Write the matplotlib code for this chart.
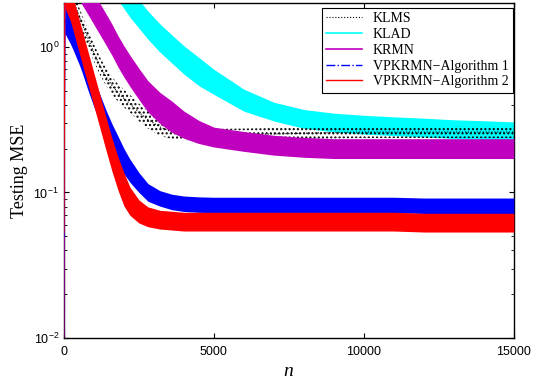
import numpy as np
import matplotlib
matplotlib.use("Agg")
import matplotlib.pyplot as plt
from matplotlib.lines import Line2D

plt.rcParams['mathtext.fontset'] = 'custom'
plt.rcParams['mathtext.rm'] = 'Liberation Sans'
plt.rcParams['mathtext.it'] = 'Liberation Serif:italic'

n_pts = [0, 30, 200, 300, 400, 500, 600, 800, 1000, 1200, 1400, 1600, 1800, 2000,
         2200, 2500, 2800, 3200, 3600, 4000, 4500, 5000, 6000, 7000, 8000, 9000,
         10000, 11000, 12000, 13000, 14000, 15000]

# approximate centre of each noisy learning curve (testing MSE)
klms = [0.03, 2.8, 2.45, 2.14, 1.86, 1.64, 1.45, 1.15, 0.91, 0.74, 0.624, 0.543,
        0.484, 0.442, 0.407, 0.355, 0.316, 0.282, 0.26, 0.251, 0.248, 0.248, 0.25,
        0.252, 0.255, 0.258, 0.26, 0.26, 0.26, 0.26, 0.26, 0.26]
klad = [0.016, 8.5, 7.9, 7.4, 6.9, 6.5, 6.0, 5.2, 4.6, 4.0, 3.5, 3.0, 2.63, 2.29,
        2.0, 1.68, 1.41, 1.15, 0.966, 0.813, 0.676, 0.575, 0.43, 0.359, 0.32, 0.302,
        0.292, 0.285, 0.279, 0.272, 0.268, 0.263]
krmn = [0.0102, 3.7, 3.45, 3.2, 2.95, 2.72, 2.5, 2.14, 1.82, 1.55, 1.32, 1.12,
        0.933, 0.794, 0.684, 0.556, 0.457, 0.38, 0.331, 0.292, 0.26, 0.24, 0.224,
        0.211, 0.204, 0.20, 0.20, 0.20, 0.20, 0.20, 0.20, 0.20]
alg1 = [0.05, 1.55, 1.33, 1.2, 1.07, 0.955, 0.84, 0.63, 0.484, 0.376, 0.295, 0.237,
        0.195, 0.164, 0.141, 0.117, 0.10, 0.091, 0.086, 0.0836, 0.0825, 0.082, 0.082,
        0.082, 0.082, 0.082, 0.082, 0.082, 0.081, 0.081, 0.081, 0.081]
alg2 = [0.053, 2.4, 2.0, 1.7, 1.43, 1.2, 1.01, 0.716, 0.507, 0.359, 0.254, 0.182,
        0.135, 0.105, 0.087, 0.074, 0.068, 0.065, 0.064, 0.063, 0.063, 0.063, 0.063,
        0.063, 0.063, 0.063, 0.063, 0.063, 0.062, 0.062, 0.062, 0.062]

# multiplicative half-width of the noise band around each curve
klms_spread = [1.0] + [1.15] * 17 + [1.12] + [1.1] * 13
klad_spread = [1.0] + [1.25] * 20 + [1.22, 1.19] + [1.16] * 9
krmn_spread = [1.0] + [1.28] * 18 + [1.24, 1.2] + [1.17] * 11
alg1_spread = [1.0] + [1.25] * 12 + [1.22, 1.2, 1.17, 1.15] + [1.13] * 15
alg2_spread = [1.0] + [1.3] * 13 + [1.25, 1.2, 1.17] + [1.16] * 15

labels = ['KLMS', 'KLAD', 'KRMN', 'VPKRMN\u2212Algorithm 1', 'VPKRMN\u2212Algorithm 2']

n = np.array(n_pts)

fig = plt.figure(figsize=(5.33, 3.80), dpi=100)
ax = fig.add_axes([0.120, 0.1105, 0.844, 0.8815])


def band(vals, spread, color, z):
    v = np.array(vals)
    s = np.array(spread)
    ax.fill_between(n[1:], v[1:] / s[1:], v[1:] * s[1:], color=color, lw=0, zorder=z)
    ax.plot(n, v, color=color, lw=0.8, zorder=z)


band(klad, klad_spread, 'cyan', 2)
# KLMS drawn as a cloud of dots
v = np.array(klms)
s = np.array(klms_spread)
ax.fill_between(n[1:], v[1:] / s[1:], v[1:] * s[1:], facecolor='none',
                edgecolor='black', hatch='....', lw=0, zorder=3)
ax.plot(n, v, color='black', ls=':', lw=0.8, zorder=3)
band(krmn, krmn_spread, '#bf00bf', 4)
band(alg1, alg1_spread, 'blue', 5)
band(alg2, alg2_spread, 'red', 6)

ax.set_yscale('log')
ax.set_xlim(0, 15000)
ax.set_ylim(0.01, 2)
ax.set_xticks([0, 5000, 10000, 15000])
ax.tick_params(which='both', direction='in', top=True, right=True,
               labelsize=9, labelfontfamily='Liberation Sans')
ax.tick_params(axis='x', pad=6)
for sp in ax.spines.values():
    sp.set_linewidth(1.0)

ax.set_ylabel('Testing MSE', family='Liberation Serif', fontsize=13)
ax.set_xlabel('$n$', fontsize=14, labelpad=2)

handles = [
    Line2D([], [], color='black', ls=':', lw=0.8),
    Line2D([], [], color='cyan', lw=1.2),
    Line2D([], [], color='#bf00bf', lw=1.2),
    Line2D([], [], color='blue', ls='-.', lw=1.0),
    Line2D([], [], color='red', lw=1.0),
]
leg = ax.legend(handles, labels, loc='upper right', fancybox=False, framealpha=1,
                edgecolor='black', prop={'family': 'Liberation Serif', 'size': 10},
                handlelength=2.6, labelspacing=0.2, borderpad=0.3, borderaxespad=0,
                bbox_to_anchor=(0.998, 0.985))
leg.get_frame().set_linewidth(0.8)

fig.savefig('out.png', dpi=100)
